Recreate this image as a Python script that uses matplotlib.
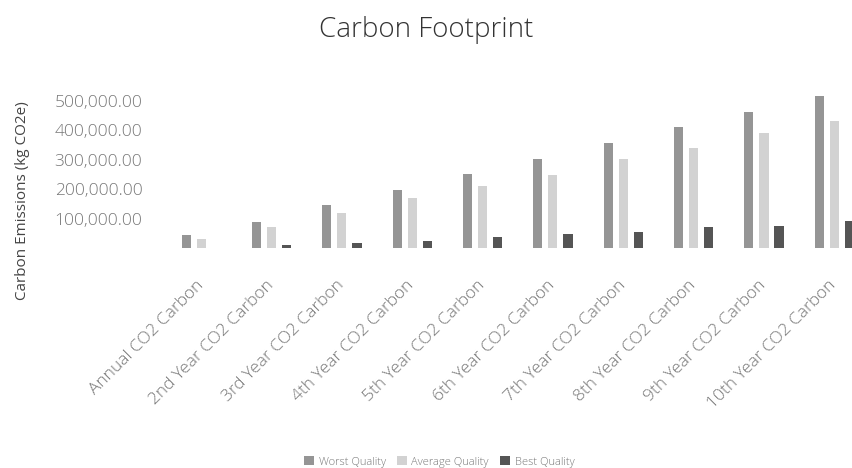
import matplotlib
matplotlib.use("Agg")
import matplotlib.pyplot as plt
import matplotlib.transforms as mtransforms
import numpy as np

plt.rcParams['font.family'] = ['Open Sans', 'DejaVu Sans']
plt.rcParams['font.weight'] = 'light'

categories = [
    "Annual CO2 Carbon", "2nd Year CO2 Carbon", "3rd Year CO2 Carbon",
    "4th Year CO2 Carbon", "5th Year CO2 Carbon", "6th Year CO2 Carbon",
    "7th Year CO2 Carbon", "8th Year CO2 Carbon", "9th Year CO2 Carbon",
    "10th Year CO2 Carbon",
]
series_names = ["Worst Quality", "Average Quality", "Best Quality"]
worst = [44000, 88000, 146000, 197000, 251000, 302000, 356000, 410000, 461000, 515000]
average = [31000, 71000, 119000, 169000, 210000, 247000, 302000, 339000, 390000, 431000]
best = [0, 8500, 17000, 25000, 37000, 47000, 56000, 71000, 76000, 90000]
yticks = [100000, 200000, 300000, 400000, 500000]

colors = ["#959595", "#d2d2d2", "#555555"]

fig = plt.figure(figsize=(8.53, 4.68), dpi=100)
ax = fig.add_axes([166 / 853, 220 / 468, 703.5 / 853, 165 / 468])

x = np.arange(len(categories))
offset = 0.214
width = 0.13
for i, (vals, name) in enumerate(zip([worst, average, best], series_names)):
    ax.bar(x + (i - 1) * offset, vals, width, color=colors[i], label=name)

ax.set_xlim(-0.5, len(categories) - 0.5)
ax.set_ylim(0, 560000)
ax.set_yticks(yticks)
ax.set_yticklabels([f"{v:,.2f}" for v in yticks], color="#777777", fontsize=12.5)
ax.set_xticks(x)
ax.set_xticklabels(categories, rotation=45, ha="right", rotation_mode="anchor",
                   color="#777777", fontsize=12.5)
ax.tick_params(axis="both", length=0)
ax.tick_params(axis="x", pad=21)
ax.tick_params(axis="y", pad=17)
shift = mtransforms.ScaledTranslation(-6 / 100, 0, fig.dpi_scale_trans)
for lbl in ax.get_xticklabels():
    lbl.set_transform(lbl.get_transform() + shift)
for s in ax.spines.values():
    s.set_visible(False)

ax.set_ylabel("Carbon Emissions (kg CO2e)", fontsize=11, color="#444444")
ax.yaxis.set_label_coords(-0.194, 0.29, transform=ax.transAxes)

fig.text(0.5, 0.935, "Carbon Footprint", ha="center", va="center",
         fontsize=20, color="#333333")

handles, labels = ax.get_legend_handles_labels()
fig.legend(handles, labels, loc="center", bbox_to_anchor=(0.515, 0.013),
           ncol=3, frameon=False, fontsize=8, handlelength=0.9, handleheight=0.9,
           columnspacing=1.0, handletextpad=0.4, labelcolor="#777777")

fig.savefig("out.png", dpi=100)
